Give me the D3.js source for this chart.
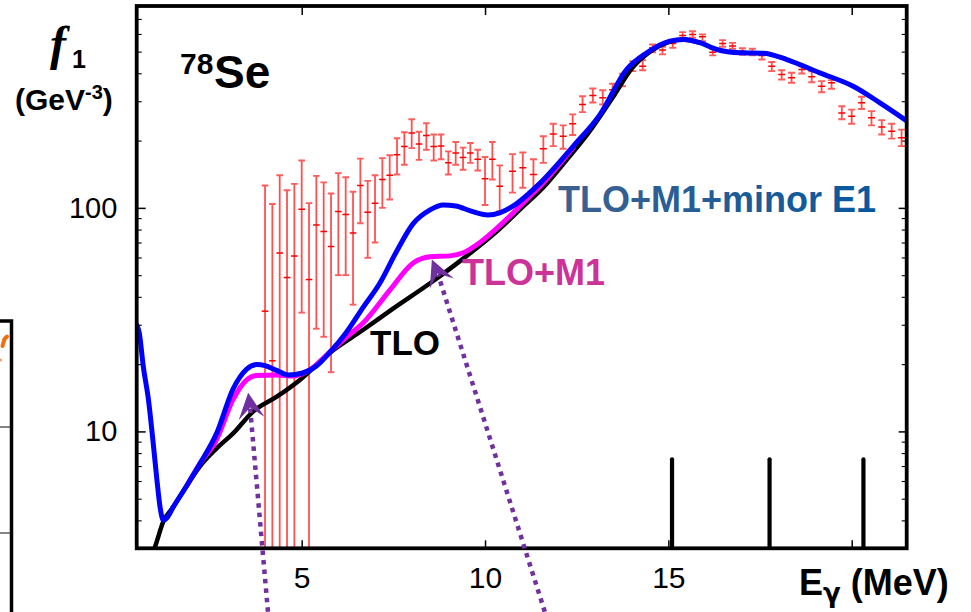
<!DOCTYPE html>
<meta charset="utf-8">
<style>
  body { margin: 0; background: #fff; }
  svg { display: block; }
  .lbl { font-family: "Liberation Sans", Arial, sans-serif; font-weight: bold; }
  .axis text { font-family: "Liberation Sans", Arial, sans-serif; font-size: 29px; fill: #000; }
  .axis line { stroke: #000; }
  .curve { fill: none; stroke-linejoin: round; stroke-linecap: round; }
</style>
<body>
<script src="https://cdn.jsdelivr.net/npm/d3@7/dist/d3.min.js"></script>
<script>

// measured strength, low-energy set (E in MeV, f1 in GeV^-3); null = lower error off scale
var lowE  = [4.0, 4.2, 4.4, 4.6, 4.8, 5.0, 5.2, 5.4, 5.6, 5.8, 6.0, 6.2, 6.4, 6.6, 6.8, 7.0, 7.2,
             7.4, 7.6, 7.8, 8.0, 8.2, 8.4, 8.6, 8.8, 9.0, 9.2, 9.4, 9.6, 9.8, 10.0, 10.2, 10.4];
var lowF  = [34.5, 20.7, 62.8, 48.8, 60.9, 98.6, 47.8, 83.9, 78.5, 67.1, 96.3, 93.5, 77.1, 126, 95.6, 105, 134,
             140, 173, 188, 216, 193, 211, 188, 189, 159, 176, 168, 176, 165, 135, 165, 125];
var lowHi = [126, 104, 140, 120, 128, 163, 105, 139, 130, 116, 143, 137, 118, 166, 132, 140, 167,
             172, 205, 218, 249, 219, 239, 213, 213, 179, 197, 186, 195, 182, 169, 197, 155];
var lowLo = [null, null, null, null, null, 34, null, 28.8, 26.5, 18.4, 50, 50, 36.9, 85.3, 59.8, 70, 100,
             109, 141, 156, 185, 164, 182, 163, 165, 141, 156, 148, 159, 147, 103, 134, 96.6];

// measured strength, high-energy set
var highE  = [10.75, 11.03, 11.32, 11.59, 11.86, 12.13, 12.39, 12.66, 12.94, 13.21, 13.48, 13.75, 14.03, 14.30,
              14.57, 14.84, 15.12, 15.39, 15.66, 15.93, 16.21, 16.48, 16.75, 17.02, 17.29, 17.55, 17.82, 18.09,
              18.36, 18.64, 18.91, 19.18, 19.45, 19.73, 20.00, 20.27, 20.54, 20.82, 21.09, 21.36];
var highF  = [146, 151, 141, 184, 214, 209, 238, 290, 318, 311, 338, 375, 434, 430,
              520, 508, 544, 591, 597, 583, 497, 544, 530, 502, 497, 481, 430, 395,
              382, 416, 386, 350, 363, 266, 257, 295, 253, 230, 220, 206];
var highHi = [174, 177, 165, 209, 238, 234, 262, 316, 342, 336, 359, 398, 453, 458,
              538, 526, 563, 611, 617, 597, 515, 563, 547, 518, 515, 497, 449, 413,
              402, 430, 408, 369, 373, 285, 275, 314, 271, 247, 238, 224];
var highLo = [117, 123, 117, 159, 189, 184, 212, 268, 296, 290, 316, 350, 409, 413,
              497, 486, 520, 571, 577, 557, 481, 526, 515, 484, 481, 461, 409, 375,
              363, 399, 365, 329, 341, 249, 238, 277, 234, 213, 204, 189];

// model curves [E, f1]
var tlo = [[0.95, 2.9], [1.0, 3.05], [1.225, 3.95], [1.5, 4.6], [1.86, 5.7], [2.23, 7.0], [2.68, 8.4],
           [3.13, 9.8], [3.68, 12.3], [4.32, 14.3], [4.95, 17.0], [5.77, 22.5], [6.68, 28.5], [7.5, 35.5],
           [8.5, 46], [9.5, 61], [10.3, 78], [11.0, 100], [11.6, 124], [12.2, 162], [12.8, 214],
           [13.5, 315], [14.0, 420], [14.5, 500], [15.0, 552], [15.4, 566], [15.86, 548]];
var tloM1 = [[1.86, 5.7], [2.23, 7.2], [2.68, 9.2], [3.13, 13.9], [3.5, 17.0], [3.77, 17.8], [4.3, 17.9],
             [4.77, 17.7], [5.23, 18.9], [5.77, 22.7], [6.23, 26.5], [6.68, 30.6], [7.41, 43], [8.04, 56.7],
             [8.5, 60.4], [9.04, 61], [9.41, 63], [9.86, 70], [10.32, 81], [10.77, 95], [11.23, 113],
             [11.5, 125], [12.41, 187]];
var tloM1E1 = [[0.5, 30], [0.57, 27.6], [0.68, 19.5], [0.82, 13.9], [0.94, 9.2], [1.05, 6.1], [1.14, 4.55],
               [1.23, 4.0], [1.32, 4.1], [1.5, 4.6], [1.86, 5.7], [2.23, 7.2], [2.68, 9.8], [3.13, 15.5],
               [3.5, 19.0], [3.77, 19.9], [4.0, 19.7], [4.3, 18.8], [4.63, 17.9], [5.0, 18.2], [5.4, 19.6],
               [5.77, 22.6], [6.2, 27.5], [6.68, 36], [7.13, 46], [7.59, 64], [8.04, 85], [8.5, 98],
               [8.86, 103], [9.2, 102], [9.6, 97], [10.08, 93], [10.4, 95], [10.77, 102], [11.5, 129],
               [12.41, 189], [13.14, 262], [13.86, 416], [14.41, 494], [15.04, 557], [15.41, 567],
               [15.86, 548], [16.32, 511], [16.95, 494], [17.59, 492], [18.23, 461], [19.13, 402],
               [20.04, 350], [20.77, 295], [21.5, 245]];

// vertical markers at the bottom
var markerE = [15.1, 17.76, 20.32];
var markerTop = 7.5;

// dotted pointer arrows [E, f1], tail first, notch, tip last
var arrow1 = [[4.08, 1.56], [3.59, 12.9], [3.54, 14.9]];
var arrow2 = [[11.63, 1.56], [8.72, 50.3], [8.55, 58.7]];

var xTicks = [5, 10, 15, 20];
var xLabels = ["5", "10", "15", ""];
var yTicks = [10, 100];
var yMinor = [4, 5, 6, 7, 8, 9, 20, 30, 40, 50, 60, 70, 80, 90, 200, 300, 400, 500, 600, 700];

var W = 971, H = 612;
var plotL = 136.7, plotR = 906.7, plotT = 6, plotB = 548.3;

var x = d3.scaleLinear().domain([0.5, 21.5]).range([plotL, plotR]);
var y = d3.scaleLog().domain([3, 800]).range([plotB, plotT]);

var svg = d3.select("body").append("svg")
    .attr("width", W)
    .attr("height", H);

var defs = svg.append("defs");
defs.append("clipPath").attr("id", "clip")
  .append("rect")
    .attr("x", plotL).attr("y", plotT)
    .attr("width", plotR - plotL).attr("height", plotB - plotT);

var grad = defs.append("linearGradient").attr("id", "bluegrad")
    .attr("x1", "0%").attr("x2", "100%");
grad.append("stop").attr("offset", "0%").attr("stop-color", "#3d6190");
grad.append("stop").attr("offset", "100%").attr("stop-color", "#07589e");

// fragment of the neighbouring panel on the left
var frag = svg.append("g");
frag.append("path")
    .attr("d", "M0,321 L11.5,321 L11.5," + H)
    .attr("fill", "none").attr("stroke", "#000").attr("stroke-width", 3.5);
[427, 533].forEach(function(yy) {
  frag.append("line").attr("x1", 0).attr("x2", 10).attr("y1", yy).attr("y2", yy)
    .attr("stroke", "#333").attr("stroke-width", 1.2);
});
frag.append("path").attr("d", "M2.5,346 L4.5,339 L7,336.5")
    .attr("fill", "none").attr("stroke", "#f07010").attr("stroke-width", 4).attr("stroke-linecap", "round");
frag.append("circle").attr("cx", 0.5).attr("cy", 360).attr("r", 1.5).attr("fill", "#f5a060");

// axes (ticks point inward)
function styleAxis(g) {
  g.select(".domain").remove();
  g.selectAll("line").attr("stroke-width", 1.5);
}

svg.append("g").attr("class", "axis")
    .attr("transform", "translate(0," + plotB + ")")
    .call(d3.axisBottom(x).tickValues(xTicks).tickSize(-8).tickPadding(18.4)
      .tickFormat(function(d, i) { return xLabels[i]; }))
    .call(styleAxis)
    .selectAll("text").style("font-size", "30px");

svg.append("g").attr("class", "axis")
    .attr("transform", "translate(0," + plotT + ")")
    .call(d3.axisTop(x).tickValues(xTicks).tickSize(-9).tickFormat(""))
    .call(styleAxis);

svg.append("g").attr("class", "axis")
    .attr("transform", "translate(" + plotL + ",0)")
    .call(d3.axisLeft(y).tickValues(yTicks).tickSize(-9).tickPadding(19.4).tickFormat(d3.format("d")))
    .call(styleAxis);

svg.append("g").attr("class", "axis")
    .attr("transform", "translate(" + plotL + ",0)")
    .call(d3.axisLeft(y).tickValues(yMinor).tickSize(-5).tickFormat(""))
    .call(styleAxis)
    .selectAll("line").attr("stroke-width", 1.1);

svg.append("g").attr("class", "axis")
    .attr("transform", "translate(" + plotR + ",0)")
    .call(d3.axisRight(y).tickValues(yTicks).tickSize(-8).tickFormat(""))
    .call(styleAxis);

svg.append("g").attr("class", "axis")
    .attr("transform", "translate(" + plotR + ",0)")
    .call(d3.axisRight(y).tickValues(yMinor).tickSize(-5).tickFormat(""))
    .call(styleAxis)
    .selectAll("line").attr("stroke-width", 1.1);

var plot = svg.append("g").attr("clip-path", "url(#clip)");

// error bars
function errorBars(E, F, hi, lo, cap) {
  var rows = E.map(function(e, i) { return {e: e, f: F[i], hi: hi[i], lo: lo[i]}; });
  var g = plot.append("g").selectAll("g").data(rows).enter().append("g");
  g.append("line")
    .attr("x1", function(d) { return x(d.e); })
    .attr("x2", function(d) { return x(d.e); })
    .attr("y1", function(d) { return y(d.hi); })
    .attr("y2", function(d) { return d.lo ? y(d.lo) : plotB + 5; })
    .attr("stroke", "#ff2424").attr("stroke-opacity", 0.8).attr("stroke-width", 1.8);
  g.append("line")
    .attr("x1", function(d) { return x(d.e) - cap; })
    .attr("x2", function(d) { return x(d.e) + cap; })
    .attr("y1", function(d) { return y(d.hi); })
    .attr("y2", function(d) { return y(d.hi); })
    .attr("stroke", "#ff5c5c").attr("stroke-width", 1.9);
  g.filter(function(d) { return d.lo; }).append("line")
    .attr("x1", function(d) { return x(d.e) - cap; })
    .attr("x2", function(d) { return x(d.e) + cap; })
    .attr("y1", function(d) { return y(d.lo); })
    .attr("y2", function(d) { return y(d.lo); })
    .attr("stroke", "#ff5c5c").attr("stroke-width", 1.9);
  g.append("line")
    .attr("x1", function(d) { return x(d.e) - cap; })
    .attr("x2", function(d) { return x(d.e) + cap; })
    .attr("y1", function(d) { return y(d.f); })
    .attr("y2", function(d) { return y(d.f); })
    .attr("stroke", "#ff0000").attr("stroke-width", 1.5);
}
errorBars(lowE, lowF, lowHi, lowLo, 3.3);
errorBars(highE, highF, highHi, highLo, 3.5);

// model curves
var line = d3.line()
    .curve(d3.curveMonotoneX)
    .x(function(d) { return x(d[0]); })
    .y(function(d) { return y(d[1]); });

plot.append("path").datum(tlo).attr("class", "curve")
    .attr("stroke", "#000").attr("stroke-width", 4.5).attr("d", line);
plot.append("path").datum(tloM1).attr("class", "curve")
    .attr("stroke", "#ff00ff").attr("stroke-width", 5).attr("d", line);
plot.append("path").datum(tloM1E1).attr("class", "curve")
    .attr("stroke", "#0000ff").attr("stroke-width", 5).attr("d", line);

// markers
plot.selectAll(".marker").data(markerE).enter().append("line")
    .attr("x1", function(d) { return x(d); })
    .attr("x2", function(d) { return x(d); })
    .attr("y1", y(markerTop))
    .attr("y2", plotB + 3)
    .attr("stroke", "#000").attr("stroke-width", 4.2).attr("stroke-linecap", "round");

// frame
svg.append("rect")
    .attr("x", plotL).attr("y", plotT)
    .attr("width", plotR - plotL).attr("height", plotB - plotT)
    .attr("fill", "none").attr("stroke", "#000").attr("stroke-width", 3.8);

// dotted arrows
var aLine = d3.line()
    .x(function(d) { return x(d[0]); })
    .y(function(d) { return y(d[1]); });
[arrow1, arrow2].forEach(function(a) {
  svg.append("path").datum(a.slice(0, a.length - 1))
    .attr("d", aLine)
    .attr("fill", "none").attr("stroke", "#7030a0")
    .attr("stroke-width", 4.5).attr("stroke-dasharray", "4.5 5");
  var n = a[a.length - 2], t = a[a.length - 1];
  var tx = x(t[0]), ty = y(t[1]);
  var ang = Math.atan2(ty - y(n[1]), tx - x(n[0])) * 180 / Math.PI;
  svg.append("path")
    .attr("d", "M0,0 L-26,-13 L-15,0 L-26,13 Z")
    .attr("transform", "translate(" + tx + "," + ty + ") rotate(" + ang + ")")
    .attr("fill", "#7030a0");
});

// labels
svg.append("text").attr("x", 50).attr("y", 60)
    .style("font-family", "'Liberation Serif', 'Times New Roman', serif")
    .style("font-style", "italic").style("font-weight", "bold").style("font-size", "48px")
    .text("f");
svg.append("text").attr("class", "lbl").attr("x", 72).attr("y", 68)
    .style("font-size", "25px").text("1");

var gev = svg.append("text").attr("class", "lbl").attr("x", 15).attr("y", 110).style("font-size", "30px");
gev.append("tspan").text("(GeV");
gev.append("tspan").attr("dy", -11).style("font-size", "20px").text("-3");
gev.append("tspan").attr("dy", 11).text(")");

svg.append("text").attr("class", "lbl").attr("x", 180).attr("y", 74).style("font-size", "30px").text("78");
svg.append("text").attr("class", "lbl").attr("x", 214).attr("y", 88).style("font-size", "46px").text("Se");

svg.append("text").attr("class", "lbl").attr("x", 558).attr("y", 212)
    .style("font-size", "36px").attr("fill", "url(#bluegrad)").text("TLO+M1+minor E1");
svg.append("text").attr("class", "lbl").attr("x", 462).attr("y", 285)
    .style("font-size", "36px").attr("fill", "#cc3399").text("TLO+M1");
svg.append("text").attr("class", "lbl").attr("x", 370).attr("y", 355)
    .style("font-size", "35px").attr("fill", "#000").text("TLO");

var eg = svg.append("text").attr("class", "lbl").attr("x", 799).attr("y", 595).style("font-size", "36px");
eg.append("tspan").text("E");
eg.append("tspan").attr("dy", 7).style("font-size", "26px")
    .style("font-family", "'DejaVu Sans', sans-serif").text("γ");
eg.append("tspan").attr("dy", -7).text(" (MeV)");

</script>
</body>
